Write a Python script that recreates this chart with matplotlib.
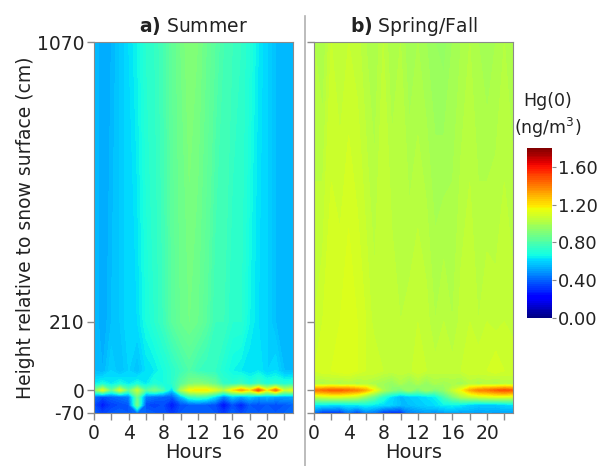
import numpy as np
import matplotlib
matplotlib.use("Agg")
import matplotlib.pyplot as plt

plt.rcParams["axes.unicode_minus"] = False

hours = list(range(24))
heights = [-70, -45, -20, 0, 20, 60, 210, 1070]

# Summer Hg(0) (ng/m3), one list per height
s_m70 = [0.40,0.34,0.38,0.40,0.38,0.42,0.40,0.38,0.38,0.32,0.38,0.40,0.38,0.40,0.38,0.32,0.40,0.35,0.40,0.38,0.40,0.38,0.40,0.42]
s_m45 = [0.36,0.26,0.34,0.36,0.38,0.88,0.36,0.34,0.36,0.26,0.36,0.38,0.40,0.38,0.36,0.24,0.36,0.28,0.38,0.36,0.38,0.36,0.38,0.40]
s_m20 = [0.42,0.36,0.40,0.42,0.45,0.85,0.45,0.42,0.40,0.38,0.55,0.75,0.78,0.75,0.62,0.45,0.58,0.52,0.58,0.52,0.55,0.52,0.52,0.52]
s_0 = [0.88,1.10,0.82,1.08,0.82,1.05,0.80,0.88,0.78,0.58,0.98,1.15,1.18,1.18,1.10,1.00,1.18,1.32,1.18,1.48,1.15,1.42,1.05,1.12]
s_20 = [0.64,0.68,0.64,0.68,0.64,0.68,0.64,0.70,0.68,0.72,0.82,0.90,0.92,0.90,0.85,0.74,0.72,0.76,0.70,0.76,0.70,0.72,0.70,0.72]
s_60 = [0.56,0.54,0.60,0.56,0.60,0.56,0.62,0.64,0.68,0.72,0.76,0.80,0.76,0.74,0.74,0.70,0.66,0.64,0.62,0.64,0.60,0.62,0.56,0.56]
s_210 = [0.56,0.52,0.56,0.58,0.62,0.62,0.68,0.72,0.76,0.82,0.86,0.88,0.86,0.82,0.76,0.76,0.72,0.72,0.66,0.62,0.60,0.56,0.54,0.56]
s_1070 = [0.56,0.52,0.54,0.58,0.62,0.66,0.72,0.74,0.78,0.84,0.88,0.92,0.90,0.86,0.82,0.78,0.76,0.74,0.70,0.64,0.60,0.56,0.54,0.56]

# Spring/Fall Hg(0) (ng/m3), one list per height
p_m70 = [0.42,0.30,0.32,0.30,0.42,0.32,0.45,0.42,0.32,0.30,0.30,0.45,0.48,0.50,0.48,0.50,0.52,0.50,0.52,0.50,0.52,0.50,0.52,0.50]
p_m45 = [0.64,0.64,0.62,0.62,0.64,0.64,0.66,0.64,0.62,0.60,0.56,0.56,0.58,0.60,0.62,0.66,0.66,0.64,0.60,0.58,0.58,0.58,0.60,0.62]
p_m20 = [1.05,1.08,1.10,1.10,1.08,1.05,0.95,0.85,0.72,0.62,0.55,0.58,0.60,0.62,0.65,0.78,0.90,1.00,1.05,1.08,1.10,1.12,1.12,1.10]
p_0 = [1.40,1.42,1.45,1.45,1.42,1.38,1.30,1.15,1.00,0.92,0.88,0.96,0.88,0.96,0.90,0.94,1.05,1.15,1.30,1.38,1.40,1.45,1.48,1.45]
p_20 = [1.02,1.00,1.02,1.00,1.02,1.00,1.02,1.00,0.98,0.95,1.00,0.95,1.00,0.95,1.00,0.98,1.00,0.98,1.02,1.00,1.02,1.00,1.02,1.02]
p_60 = [1.08,1.10,1.10,1.12,1.12,1.10,1.08,1.08,1.06,1.05,1.06,1.05,1.08,1.06,1.05,1.06,1.05,1.06,1.08,1.08,1.08,1.10,1.08,1.08]
p_210 = [1.06,1.08,1.10,1.10,1.12,1.10,1.08,1.05,1.05,1.06,1.04,1.05,1.06,1.05,1.02,1.04,1.02,1.05,1.06,1.04,1.06,1.05,1.06,1.05]
p_1070 = [1.02,1.00,1.06,1.04,1.06,1.05,1.02,1.00,1.04,1.00,1.02,0.98,1.00,0.98,0.96,0.95,0.98,1.00,1.02,1.00,0.98,1.00,1.02,1.00]

summer = np.array([s_m70, s_m45, s_m20, s_0, s_20, s_60, s_210, s_1070])
spring = np.array([p_m70, p_m45, p_m20, p_0, p_20, p_60, p_210, p_1070])

titles = [r"$\bf{a)}$ Summer", r"$\bf{b)}$ Spring/Fall"]
ytick_vals = [-70, 0, 210, 1070]
cbar_ticks = [0.0, 0.4, 0.8, 1.2, 1.6]

W, H = 600, 466
fig = plt.figure(figsize=(6.0, 4.66), dpi=100)

def rect(x0, y0, x1, y1):
    return [x0 / W, 1 - y1 / H, (x1 - x0) / W, (y1 - y0) / H]

ax1 = fig.add_axes(rect(94, 42, 293, 413))
ax2 = fig.add_axes(rect(314, 42, 513, 413))
cax = fig.add_axes(rect(527, 148, 552, 318))

levels = np.linspace(0, 1.8, 91)
spine_col = "#8a8a8a"
for ax, Z, title in [(ax1, summer, titles[0]), (ax2, spring, titles[1])]:
    cs = ax.contourf(hours, heights, Z, levels=levels, cmap="jet")
    ax.set_xlim(0, 23)
    ax.set_ylim(-70, 1070)
    ax.set_xticks(range(0, 24, 2))
    ax.set_xticklabels([str(h) if h % 4 == 0 else "" for h in range(0, 24, 2)])
    ax.set_yticks(ytick_vals)
    ax.tick_params(axis="both", direction="out", length=5, width=1, colors=spine_col,
                   labelcolor="#222222", labelsize=13.5, pad=2)
    ax.tick_params(axis="x", pad=3)
    for sp in ax.spines.values():
        sp.set_color(spine_col)
    ax.set_xlabel("Hours", fontsize=14, color="#222222", labelpad=0)
    ax.set_title(title, fontsize=13.5, color="#222222", pad=7)

ax1.set_ylabel("Height relative to snow surface (cm)", fontsize=13.5, color="#222222", labelpad=1)
ax2.set_yticklabels([])

cb = fig.colorbar(cs, cax=cax, ticks=cbar_ticks, format="%.2f")
cb.outline.set_visible(False)
cax.tick_params(length=3, colors=spine_col, labelcolor="#222222", labelsize=13, pad=1)
fig.text(548 / W, 1 - 101 / H, "Hg(0)", ha="center", va="center", fontsize=12.5, color="#222222")
fig.text(548 / W, 1 - 128 / H, "(ng/m$^3$)", ha="center", va="center", fontsize=12.5, color="#222222")

fig.add_artist(plt.Line2D([305 / W, 305 / W], [0, 1 - 16 / H], transform=fig.transFigure,
                          color="#b0b0b0", lw=1.2))

fig.savefig("out.png", dpi=100)
